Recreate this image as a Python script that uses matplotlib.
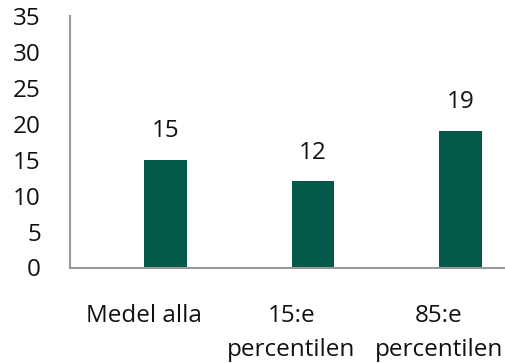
import matplotlib
matplotlib.use("Agg")
import matplotlib.pyplot as plt
import numpy as np

plt.rcParams['font.family'] = ['Open Sans', 'DejaVu Sans']

# data
categories = ["Medel alla", "15:e\npercentilen", "85:e\npercentilen"]
values = [15, 12, 19]
yticks = [0, 5, 10, 15, 20, 25, 30, 35]

bar_color = "#035A4A"
axis_color = "#999999"
text_color = "#111111"

fig = plt.figure(figsize=(5.06, 3.63), dpi=100)
# axis runs a little past the right edge of the figure
ax = fig.add_axes([70 / 506, 1 - 267.5 / 363, 442.5 / 506, (267.5 - 16) / 363])

x = np.arange(len(categories))
width = 0.29
offset = 0.147  # bars sit right of category centre (clustered layout)
bars = ax.bar(x + offset, values, width=width, color=bar_color, zorder=2)

for b, v in zip(bars, values):
    ax.text(b.get_x() + b.get_width() / 2, v + 2.3, str(v),
            ha="center", va="bottom", fontsize=17.5, color=text_color)

ax.set_xlim(-0.5, 2.5)
ax.set_ylim(0, 35)
ax.set_yticks(yticks)
ax.set_xticks(x)
ax.set_xticklabels(categories, fontsize=17.5, linespacing=1.6)
ax.tick_params(axis="y", length=0, pad=21, labelsize=17.5, labelcolor=text_color)
ax.tick_params(axis="x", length=0, pad=26, labelcolor=text_color)

for s in ["top", "right"]:
    ax.spines[s].set_visible(False)
for s in ["left", "bottom"]:
    ax.spines[s].set_color(axis_color)
    ax.spines[s].set_linewidth(1.5)

fig.savefig("out.png", dpi=100)
